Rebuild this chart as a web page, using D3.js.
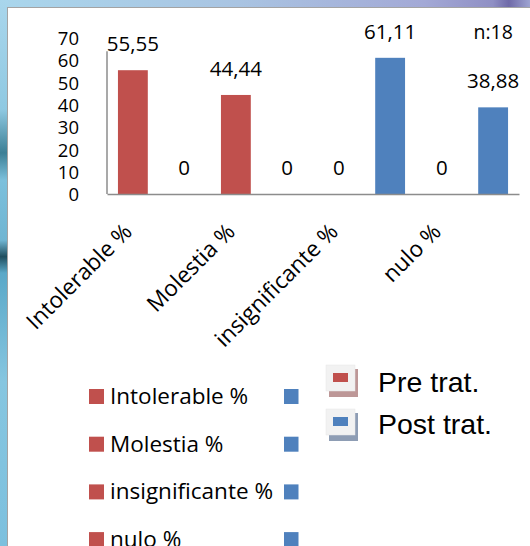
<!DOCTYPE html>
<html>
<head>
<meta charset="utf-8">
<script src="https://cdn.jsdelivr.net/npm/d3@7"></script>
<style>
  html, body { margin: 0; padding: 0; background: #fff; }
  svg { display: block; }
</style>
</head>
<body>
<svg id="chart" width="530" height="546"></svg>
<script>
// ---- data ----
const categories = ["Intolerable %", "Molestia %", "insignificante %", "nulo %"];
const seriesNames = ["Pre trat.", "Post trat."];
const preValues = [55.55, 44.44, 0, 0];
const postValues = [0, 0, 61.11, 38.88];
const valueLabels = [["55,55", "44,44", "0", "0"], ["0", "0", "61,11", "38,88"]];
const yTicks = [0, 10, 20, 30, 40, 50, 60, 70];
const sampleNote = "n:18";

const colors = { "Pre trat.": "#C0504D", "Post trat.": "#4F81BD" };
const shadowColors = { "Pre trat.": "#bd9797", "Post trat.": "#8e9db4" };
const seriesValues = [preValues, postValues];

const svg = d3.select("#chart");

// ---- background (slide edges) ----
const defs = svg.append("defs");
const gTop = defs.append("linearGradient").attr("id", "gTop").attr("x1", "0").attr("x2", "1").attr("y1", "0").attr("y2", "0");
[["0", "#a9d6ec"], ["0.45", "#a9c4e2"], ["0.8", "#a3a9d6"], ["0.93", "#8f8fc4"], ["0.96", "#6f6aa8"], ["1", "#9ea4d2"]]
  .forEach(([o, c]) => gTop.append("stop").attr("offset", o).attr("stop-color", c));
const gLeft = defs.append("linearGradient").attr("id", "gLeft").attr("x1", "0").attr("x2", "0").attr("y1", "0").attr("y2", "1");
[["0", "#a9d6ec"], ["0.2", "#8fc9e2"], ["0.28", "#3c7f95"], ["0.33", "#7cc0dc"], ["0.44", "#6fb5d2"], ["0.47", "#1f4e5e"], ["0.5", "#5aa8c8"], ["0.7", "#86c6e0"], ["1", "#7cc0de"]]
  .forEach(([o, c]) => gLeft.append("stop").attr("offset", o).attr("stop-color", c));

svg.append("rect").attr("x", 0).attr("y", 0).attr("width", 530).attr("height", 8).attr("fill", "url(#gTop)");
svg.append("rect").attr("x", 0).attr("y", 0).attr("width", 7).attr("height", 546).attr("fill", "url(#gLeft)");
svg.append("rect").attr("x", 7.5).attr("y", 7.5).attr("width", 530).attr("height", 546)
  .attr("fill", "#fff").attr("stroke", "#a3a3a3").attr("stroke-width", 1);

// ---- scales ----
const x = d3.scaleBand().domain(categories).range([107, 519]).paddingInner(0).paddingOuter(0);
const xSub = d3.scaleBand().domain(seriesNames).range([0, x.bandwidth()]).paddingInner(0.4175).paddingOuter(0.2136);
const y = d3.scaleLinear().domain([0, 70]).range([194, 38]);

const labelFont = "'Open Sans', Lato, sans-serif";

// ---- y axis ----
const axisG = svg.append("g").attr("transform", "translate(107,0)");
const yAxis = d3.axisLeft(y).tickValues(yTicks).tickSize(0).tickPadding(28);
axisG.call(yAxis);
axisG.select(".domain").remove();
axisG.selectAll("text")
  .attr("font-family", labelFont).attr("font-size", 18.5).attr("fill", "#000")
  .attr("dy", "0.36em");
axisG.append("line").attr("x1", 0).attr("x2", 0).attr("y1", y(0)).attr("y2", y(64))
  .attr("stroke", "#8c8c8c").attr("stroke-width", 1.5);

// ---- bars ----
seriesNames.forEach((s, si) => {
  const vals = seriesValues[si];
  svg.append("g").selectAll("rect").data(categories).join("rect")
    .attr("x", (c) => x(c) + xSub(s))
    .attr("width", xSub.bandwidth())
    .attr("y", (c, i) => y(vals[i]))
    .attr("height", (c, i) => y(0) - y(vals[i]))
    .attr("fill", colors[s]);
  svg.append("g").selectAll("text").data(categories).join("text")
    .attr("x", (c) => x(c) + xSub(s) + xSub.bandwidth() / 2)
    .attr("y", (c, i) => y(vals[i]) - 19)
    .attr("text-anchor", "middle")
    .attr("font-family", labelFont).attr("font-size", 20.5).attr("fill", "#000")
    .text((c, i) => valueLabels[si][i]);
});

// ---- x axis ----
const xAxisG = svg.append("g").attr("transform", `translate(0,${y(0)})`);
xAxisG.call(d3.axisBottom(x).tickSize(0).tickPadding(0).tickSizeOuter(0));
xAxisG.select(".domain").attr("stroke", "#8c8c8c").attr("stroke-width", 1.5);
xAxisG.selectAll(".tick text")
  .attr("font-family", labelFont).attr("font-size", 22.5).attr("fill", "#000")
  .attr("text-anchor", "end")
  .attr("dy", 0)
  .attr("transform", "translate(-25,39) rotate(-45)");

// ---- n note ----
svg.append("text").attr("x", x(categories[3]) + xSub("Post trat.") + xSub.bandwidth() / 2).attr("y", 39)
  .attr("text-anchor", "middle").attr("font-family", labelFont).attr("font-size", 19.5).attr("fill", "#000")
  .text(sampleNote);

// ---- category legend (left) ----
const legRow = d3.scaleLinear().domain([0, 1]).range([404, 451.7]);
const catLeg = svg.append("g").selectAll("g").data(categories).join("g")
  .attr("transform", (d, i) => `translate(0,${legRow(i)})`);
catLeg.append("rect").attr("x", 89).attr("y", -15).attr("width", 15).attr("height", 15).attr("fill", colors["Pre trat."]);
catLeg.append("rect").attr("x", 284).attr("y", -15).attr("width", 14.5).attr("height", 15).attr("fill", colors["Post trat."]);
catLeg.append("text").attr("x", 110).attr("y", 0)
  .attr("font-family", labelFont).attr("font-size", 22.5).attr("fill", "#000")
  .text((d) => d);

// ---- series legend (right) ----
const serRow = d3.scaleOrdinal().domain(seriesNames).range([0, 44]);
const serLeg = svg.append("g").selectAll("g").data(seriesNames).join("g")
  .attr("transform", (d) => `translate(326,${365 + serRow(d)})`);
serLeg.append("rect").attr("x", 3).attr("y", 4).attr("width", 29).attr("height", 28).attr("fill", (d) => shadowColors[d]);
serLeg.append("rect").attr("x", 0).attr("y", 0).attr("width", 29).attr("height", 26).attr("fill", "#f2f2f2")
  .attr("stroke", "#e6e6e6").attr("stroke-width", 0.5);
serLeg.append("rect").attr("x", 7).attr("y", 8).attr("width", 15).attr("height", 9).attr("fill", (d) => colors[d]);
serLeg.append("text").attr("x", 52).attr("y", (d, i) => 27 - i * 2.5)
  .attr("font-family", "'Liberation Sans', Arial, sans-serif").attr("font-size", 28.5).attr("fill", "#000")
  .text((d) => d);
</script>
</body>
</html>
